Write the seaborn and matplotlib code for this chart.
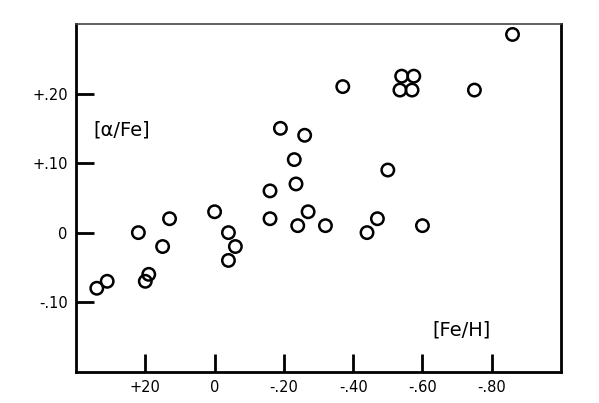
import matplotlib
matplotlib.use("Agg")
import matplotlib.pyplot as plt
import seaborn as sns
import pandas as pd

# [Fe/H] and [alpha/Fe] values
fe_h = [0.34, 0.31, 0.22, 0.20, 0.19, 0.15, 0.13, 0.00, -0.04, -0.06,
        -0.04, -0.16, -0.16, -0.19, -0.23, -0.235, -0.24, -0.26, -0.27, -0.32,
        -0.37, -0.44, -0.47, -0.50, -0.54, -0.575, -0.535, -0.57, -0.60, -0.75,
        -0.86]
alpha_fe = [-0.08, -0.07, 0.00, -0.07, -0.06, -0.02, 0.02, 0.03, 0.00, -0.02,
            -0.04, 0.06, 0.02, 0.15, 0.105, 0.07, 0.01, 0.14, 0.03, 0.01,
            0.21, 0.00, 0.02, 0.09, 0.225, 0.225, 0.205, 0.205, 0.01, 0.205,
            0.285]

xticks = [0.2, 0.0, -0.2, -0.4, -0.6, -0.8]
xticklabels = ["+20", "0", "-.20", "-.40", "-.60", "-.80"]
yticks = [0.2, 0.1, 0.0, -0.1]
yticklabels = ["+.20", "+.10", "0", "-.10"]

df = pd.DataFrame({"feh": fe_h, "afe": alpha_fe})

sns.set_style("white")
plt.rcParams['font.family'] = ['DejaVu Sans']
plt.rcParams['text.color'] = 'black'
plt.rcParams['xtick.color'] = 'black'
plt.rcParams['ytick.color'] = 'black'

fig = plt.figure(figsize=(5.99, 4.03), dpi=100)
ax = fig.add_axes([0.1269, 0.0777, 0.8097, 0.8627])

sns.scatterplot(data=df, x="feh", y="afe", ax=ax, marker="o", s=80,
                facecolor="none", edgecolor="black", linewidth=1.8, legend=False)

ax.set_xlim(0.4, -1.0)
ax.set_ylim(-0.2, 0.3)
ax.set_xticks(xticks)
ax.set_xticklabels(xticklabels)
ax.set_yticks(yticks)
ax.set_yticklabels(yticklabels)
ax.set_xlabel("")
ax.set_ylabel("")
ax.tick_params(bottom=True, left=True, top=False, right=False,
               direction="in", length=13, width=2, labelsize=10.5,
               color="black", labelcolor="black", pad=6)

for side in ["left", "bottom", "right"]:
    ax.spines[side].set_linewidth(2)
    ax.spines[side].set_color("black")
ax.spines["top"].set_linewidth(1.2)
ax.spines["top"].set_color("#444444")

ax.text(0.095, 0.695, "[α/Fe]", transform=ax.transAxes, fontsize=14,
        ha="center", va="center", color="black")
ax.text(0.794, 0.12, "[Fe/H]", transform=ax.transAxes, fontsize=14,
        ha="center", va="center", color="black")

fig.savefig("out.png", dpi=100)
